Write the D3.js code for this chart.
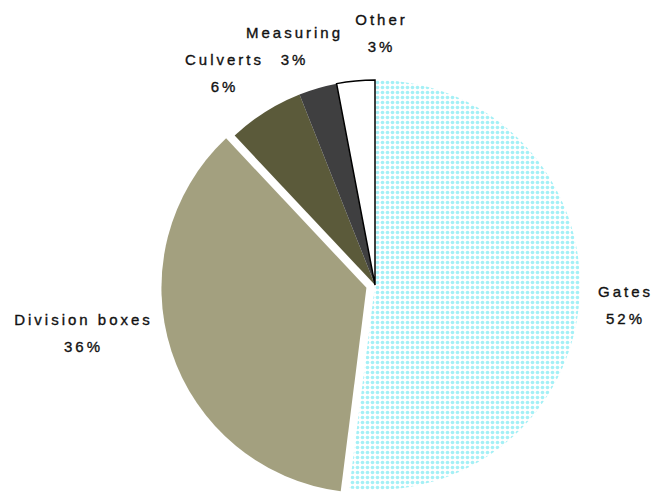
<!DOCTYPE html>
<html>
<head>
<meta charset="utf-8">
<script src="https://cdn.jsdelivr.net/npm/d3@7"></script>
<style>
  html, body { margin: 0; padding: 0; background: #fff; }
  svg { display: block; }
  text { font-family: "Liberation Sans", Arial, sans-serif; fill: #111; }
</style>
</head>
<body>
<svg id="chart" width="653" height="493"></svg>
<script>
// Structure types, share of total (%)
const categories = ["Gates", "Division boxes", "Culverts", "Measuring", "Other"];
const shares = [52, 36, 6, 3, 3];
const fills = ["url(#dots)", "#a3a07f", "#5b5a3a", "#3f3f40", "#ffffff"];
const strokes = ["none", "none", "none", "none", "#000"];
const exploded = [0, 9, 0, 0, 0];

// Label anchor points (centre of each two-line label)
const labelPos = [[624, 297], [82, 325], [223, 65], [293, 38], [380, 25]];

const width = 653, height = 493;
const cx = 375, cy = 285, radius = 205;
const letterSpacing = 3;

const svg = d3.select("#chart");

// Light cyan dot screen for the largest slice
const defs = svg.append("defs");
const pat = defs.append("pattern")
  .attr("id", "dots")
  .attr("patternUnits", "userSpaceOnUse")
  .attr("width", 5).attr("height", 5);
pat.append("rect").attr("width", 5).attr("height", 5).attr("fill", "#ffffff");
pat.append("circle").attr("cx", 2.5).attr("cy", 2.5).attr("r", 1.8).attr("fill", "#a4f0f6");

const data = categories.map((c, i) => ({ name: c, value: shares[i], i }));

const pie = d3.pie().value(d => d.value).sort(null).startAngle(0).endAngle(2 * Math.PI);
const arc = d3.arc().innerRadius(0).outerRadius(radius);
const arcs = pie(data);

const g = svg.append("g").attr("transform", `translate(${cx},${cy})`);

g.selectAll("path.slice")
  .data(arcs)
  .join("path")
  .attr("class", "slice")
  .attr("transform", d => {
    const off = exploded[d.data.i];
    const mid = (d.startAngle + d.endAngle) / 2;
    return `translate(${off * Math.sin(mid)},${-off * Math.cos(mid)})`;
  })
  .attr("d", arc)
  .attr("fill", d => fills[d.data.i])
  .attr("stroke", d => strokes[d.data.i])
  .attr("stroke-width", 1.5)
  .attr("stroke-linejoin", "miter");

// Two-line labels: name over percentage
const labels = svg.append("g")
  .selectAll("text")
  .data(data)
  .join("text")
  .attr("text-anchor", "middle")
  .attr("font-size", 15)
  .attr("letter-spacing", letterSpacing)
  .attr("stroke", "#111")
  .attr("stroke-width", 0.35)
  .attr("transform", d => `translate(${labelPos[d.i][0] + letterSpacing / 2},${labelPos[d.i][1]})`);

labels.append("tspan").attr("x", 0).attr("y", 0).text(d => d.name);
labels.append("tspan").attr("x", 0).attr("y", 27).text(d => d.value + "%");
</script>
</body>
</html>
